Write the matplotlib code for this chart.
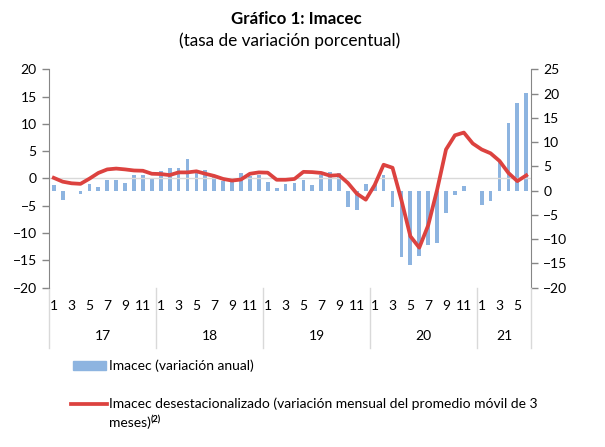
import matplotlib
matplotlib.use('Agg')
import matplotlib.pyplot as plt
from matplotlib.lines import Line2D
from matplotlib.patches import Rectangle
import numpy as np

plt.rcParams['font.family'] = ['Lato', 'DejaVu Sans']

# Data (Jan 2017 - Jun 2021)
years = ['17', '18', '19', '20', '21']
months_per_year = [12, 12, 12, 12, 6]

# Imacec, variación anual (right axis, bars)
imacec_anual = [1.1, -1.9, -0.2, -0.7, 1.3, 0.8, 2.2, 2.2, 1.5, 3.1, 3.1, 2.3,
                4.1, 4.7, 4.7, 6.5, 4.2, 4.3, 2.8, 2.0, 1.9, 3.7, 3.0, 3.1,
                1.8, 0.55, 1.4, 1.5, 2.1, 1.2, 3.1, 3.9, 3.7, -3.5, -4.0, 1.4,
                1.3, 3.3, -3.5, -13.7, -15.3, -13.6, -11.3, -10.9, -4.7, -1.0, 1.0, -0.15,
                -3.0, -2.1, 5.8, 14.0, 18.1, 20.1]

# Imacec desestacionalizado, var. mensual prom. móvil 3 meses (left axis, line)
imacec_desest = [0.1, -0.6, -0.9, -1.0, -0.05, 1.0, 1.65, 1.8, 1.65, 1.45, 1.4, 0.85,
                 0.8, 0.6, 1.1, 1.1, 1.3, 0.85, 0.45, -0.1, -0.4, -0.2, 0.85, 1.1,
                 1.05, -0.25, -0.25, -0.1, 1.2, 1.15, 1.0, 0.5, 0.6, -0.85, -2.8, -3.9,
                 -1.2, 2.5, 1.95, -4.0, -10.6, -12.7, -8.6, -2.1, 5.3, 7.9, 8.4, 6.4,
                 5.3, 4.6, 3.2, 1.0, -0.5, 0.55]

x = np.arange(len(imacec_anual))
month_nums = []
for n in months_per_year:
    month_nums += list(range(1, n + 1))

fig = plt.figure(figsize=(6.05, 4.47), dpi=100)
ax = fig.add_axes([0.0815, 0.3568, 0.7957, 0.4882])
ax2 = ax.twinx()

# bars on the secondary axis, line on the primary axis
ax2.bar(x, imacec_anual, width=0.42, color='#8db4e0', zorder=2)
ax.set_zorder(ax2.get_zorder() + 1)
ax.patch.set_visible(False)
ax.axhline(0, color='#d9d9d9', lw=1, zorder=1)
ax.plot(x, imacec_desest, color='#dc423f', lw=2.7, solid_joinstyle='round', zorder=3)

ax.set_xlim(-0.5, len(x) - 0.5)
ax.set_ylim(-20, 20)
ax.set_yticks(range(-20, 21, 5))
ax2.set_ylim(-20, 25)
ax2.set_yticks(range(-20, 26, 5))

for a in (ax, ax2):
    for s in ['top', 'bottom']:
        a.spines[s].set_visible(False)
    a.tick_params(axis='y', labelsize=10, length=5, color='#868686', width=1, pad=4)
    a.set_xticks([])
ax.spines['left'].set_color('#868686')
ax.spines['right'].set_visible(False)
ax2.spines['left'].set_visible(False)
ax2.spines['right'].set_color('#868686')

# category axis: month numbers and year groups
trans = ax.get_xaxis_transform()
for i, m in zip(x, month_nums):
    if m % 2 == 1:
        ax.text(i, -0.083, str(m), transform=trans, ha='center', va='center', fontsize=10)
bounds = np.concatenate([[0], np.cumsum(months_per_year)]) - 0.5
for b in bounds:
    ax.add_line(Line2D([b, b], [0, -0.277], transform=trans, color='#d9d9d9',
                       lw=1, clip_on=False))
for k, yr in enumerate(years):
    ax.text((bounds[k] + bounds[k + 1]) / 2, -0.22, yr, transform=trans,
            ha='center', va='center', fontsize=10)

# titles
fig.text(0.49, 0.957, 'Gráfico 1: Imacec', ha='center', va='center',
         fontsize=12.2, fontweight='bold')
fig.text(0.479, 0.91, '(tasa de variación porcentual)', ha='center', va='center',
         fontsize=12.4)

# legend
fig.patches.append(Rectangle((72.7 / 605, 1 - 370 / 447), 33 / 605, 8.7 / 447,
                             transform=fig.transFigure, color='#8db4e0'))
fig.text(109 / 605, 1 - 366 / 447, 'Imacec (variación anual)', ha='left',
         va='center', fontsize=10)
fig.add_artist(Line2D([71 / 605, 107 / 605], [1 - 404.3 / 447, 1 - 404.3 / 447],
                      transform=fig.transFigure, color='#dc423f', lw=2.7))
fig.text(109 / 605, 1 - 404 / 447,
         'Imacec desestacionalizado (variación mensual del promedio móvil de 3',
         ha='left', va='center', fontsize=10)
t = fig.text(109 / 605, 1 - 423 / 447, 'meses)', ha='left', va='center', fontsize=10)
# superscript note marker right after "meses)"
plt.annotate('(2)', xy=(1, 1), xycoords=t, xytext=(0, 1), textcoords='offset points',
             ha='left', va='top', fontsize=6.5, fontweight='bold')

fig.savefig('out.png', dpi=100)
